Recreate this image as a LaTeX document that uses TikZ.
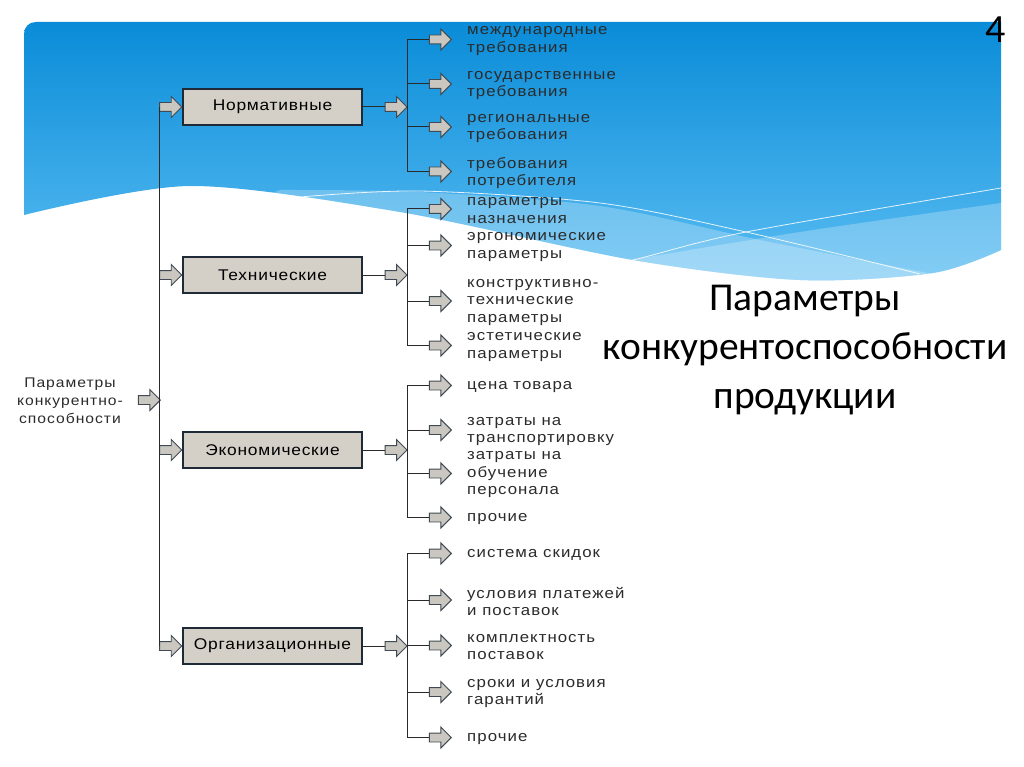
\documentclass[tikz,border=0pt]{standalone}
\usepackage{fontspec}
\setmainfont{Liberation Sans}
\newfontfamily\diagfont[FakeStretch=1.12,LetterSpace=7]{Liberation Sans}
\newfontfamily\boxfont[FakeStretch=1.12,LetterSpace=5]{Liberation Sans}
\newfontfamily\titlefont{Carlito}
\usetikzlibrary{shapes.arrows,positioning,calc}
\definecolor{PanelTop}{HTML}{0A8CD8}
\definecolor{PanelBottom}{HTML}{5ABDF2}
\definecolor{BoxFill}{HTML}{D4D0C8}
\definecolor{BoxLine}{HTML}{1E2A36}
\definecolor{ArrowFill}{HTML}{C9C7C0}
\definecolor{Wire}{HTML}{2A2A2A}
\definecolor{LeafInk}{HTML}{2B2B2B}
\tikzset{
  catbox/.style={draw=BoxLine,fill=BoxFill,line width=1.4pt,minimum width=179pt,minimum height=36pt,inner sep=0pt,font=\boxfont\fontsize{15.5}{18}\selectfont},
  blockarrow/.style={single arrow,draw=BoxLine!85,fill=ArrowFill,line width=0.9pt,minimum height=22pt,inner xsep=0pt,inner ysep=4pt,single arrow head extend=6pt,single arrow tip angle=90},
  leaf/.style={anchor=west,align=left,inner sep=0pt,text=LeafInk,font=\diagfont\fontsize{15}{17.5}\selectfont},
  wire/.style={draw=Wire,line width=1pt},
}
\begin{document}
\begin{tikzpicture}[x=1pt,y=-1pt]
\useasboundingbox (0,0) rectangle (1024,767);
\fill[white] (0,0) rectangle (1024,767);
% blue panel with wave
\shade[top color=PanelTop,bottom color=PanelBottom] (24,215) -- (24,34) .. controls (24,27) and (29,22) .. (36,22) -- (1001,22) -- (1001,250)
  -- plot[smooth] coordinates {(1001,250) (933,273) (800,280) (633,260) (400,212) (190,186) (24,215)} -- cycle;
\begin{scope}
\clip (24,215) -- (24,22) -- (1001,22) -- (1001,250)
  -- plot[smooth] coordinates {(1001,250) (933,273) (800,280) (633,260) (400,212) (190,186) (24,215)} -- cycle;
\fill[white,opacity=0.25] plot[smooth] coordinates {(280,190) (420,192) (600,206) (760,240) (933,274)} -- (1024,300) -- (0,300) -- cycle;
\fill[white,opacity=0.25] plot[smooth] coordinates {(600,265) (800,232) (1001,203)} -- (1024,203) -- (1024,300) -- (600,300) -- cycle;
\draw[white,line width=0.8pt,opacity=0.85] plot[smooth] coordinates {(300,197) (420,191) (600,203) (746,232) (920,274)};
\draw[white,line width=0.8pt,opacity=0.85] plot[smooth] coordinates {(560,275) (633,260) (746,232) (1001,188)};
\end{scope}
% root and main trunk
\node[align=center,inner sep=0pt,text=LeafInk,font=\diagfont\fontsize{14}{18}\selectfont] (root) at (70,401) {Параметры\\конкурентно-\\способности};
\node[blockarrow,anchor=tip] (rootarrow) at (161,400) {};
\node[catbox] (norm) at (272.5,107) {Нормативные};
\node[catbox] (tech) at (272.5,275) {Технические};
\node[catbox] (econ) at (272.5,450) {Экономические};
\node[catbox] (org) at (272.5,646) {Организационные};
\node[blockarrow,anchor=tip] (normin) at (norm.west) {};
\node[blockarrow,anchor=tip] (techin) at (tech.west) {};
\node[blockarrow,anchor=tip] (econin) at (econ.west) {};
\node[blockarrow,anchor=tip] (orgin) at (org.west) {};
\draw[wire] (normin.tail) -- (orgin.tail);
\node[blockarrow,anchor=tip] (normout) at ([xshift=45pt]norm.east) {};
\node[blockarrow,anchor=tip] (techout) at ([xshift=45pt]tech.east) {};
\node[blockarrow,anchor=tip] (econout) at ([xshift=45pt]econ.east) {};
\node[blockarrow,anchor=tip] (orgout) at ([xshift=45pt]org.east) {};
\draw[wire] (norm.east) -- (normout.tail);
\draw[wire] (tech.east) -- (techout.tail);
\draw[wire] (econ.east) -- (econout.tail);
\draw[wire] (org.east) -- (orgout.tail);
% normative
\node[leaf] (n1) at (467,41) {международные\\требования};
\node[leaf] (n2) at (467,85.5) {государственные\\требования};
\node[leaf] (n3) at (467,128.5) {региональные\\требования};
\node[leaf] (n4) at (467,173) {требования\\потребителя};
% technical
\node[leaf] (t1) at (467,210.5) {параметры\\назначения};
\node[leaf] (t2) at (467,247) {эргономические\\параметры};
\node[leaf] (t3) at (467,302.5) {конструктивно-\\технические\\параметры};
\node[leaf] (t4) at (467,347) {эстетические\\параметры};
% economic
\node[leaf] (e1) at (467,387) {цена товара};
\node[leaf] (e2) at (467,431.5) {затраты на\\транспортировку};
\node[leaf] (e3) at (467,475) {затраты на\\обучение\\персонала};
\node[leaf] (e4) at (467,519) {прочие};
% organisational
\node[leaf] (o1) at (467,555) {система скидок};
\node[leaf] (o2) at (467,601.5) {условия платежей\\и поставок};
\node[leaf] (o3) at (467,647) {комплектность\\поставок};
\node[leaf] (o4) at (467,693.5) {сроки и условия\\гарантий};
\node[leaf] (o5) at (467,739) {прочие};
\foreach \l in {n1,n2,n3,n4,t1,t2,t3,t4,e1,e2,e3,e4,o1,o2,o3,o4,o5}
  \node[blockarrow,anchor=tip] (\l a) at ([xshift=-15pt,yshift=1.5pt]\l.west) {};
\draw[wire] (n1a.tail) -- (n1a.tail -| normout.tip) -- (n4a.tail -| normout.tip) -- (n4a.tail);
\draw[wire] (n2a.tail) -- (n2a.tail -| normout.tip);
\draw[wire] (n3a.tail) -- (n3a.tail -| normout.tip);
\draw[wire] (t1a.tail) -- (t1a.tail -| techout.tip) -- (t4a.tail -| techout.tip) -- (t4a.tail);
\draw[wire] (t2a.tail) -- (t2a.tail -| techout.tip);
\draw[wire] (t3a.tail) -- (t3a.tail -| techout.tip);
\draw[wire] (e1a.tail) -- (e1a.tail -| econout.tip) -- (e4a.tail -| econout.tip) -- (e4a.tail);
\draw[wire] (e2a.tail) -- (e2a.tail -| econout.tip);
\draw[wire] (e3a.tail) -- (e3a.tail -| econout.tip);
\draw[wire] (o1a.tail) -- (o1a.tail -| orgout.tip) -- (o5a.tail -| orgout.tip) -- (o5a.tail);
\draw[wire] (o2a.tail) -- (o2a.tail -| orgout.tip);
\draw[wire] (o3a.tail) -- (o3a.tail -| orgout.tip);
\draw[wire] (o4a.tail) -- (o4a.tail -| orgout.tip);
% title
\node[align=center,font=\titlefont\fontsize{39.5}{49}\selectfont] (title) at (805,350) {Параметры\\конкурентоспособности\\продукции};
\node[font=\titlefont\fontsize{40}{48}\selectfont] (pagenum) at (996,30) {4};
\end{tikzpicture}
\end{document}
